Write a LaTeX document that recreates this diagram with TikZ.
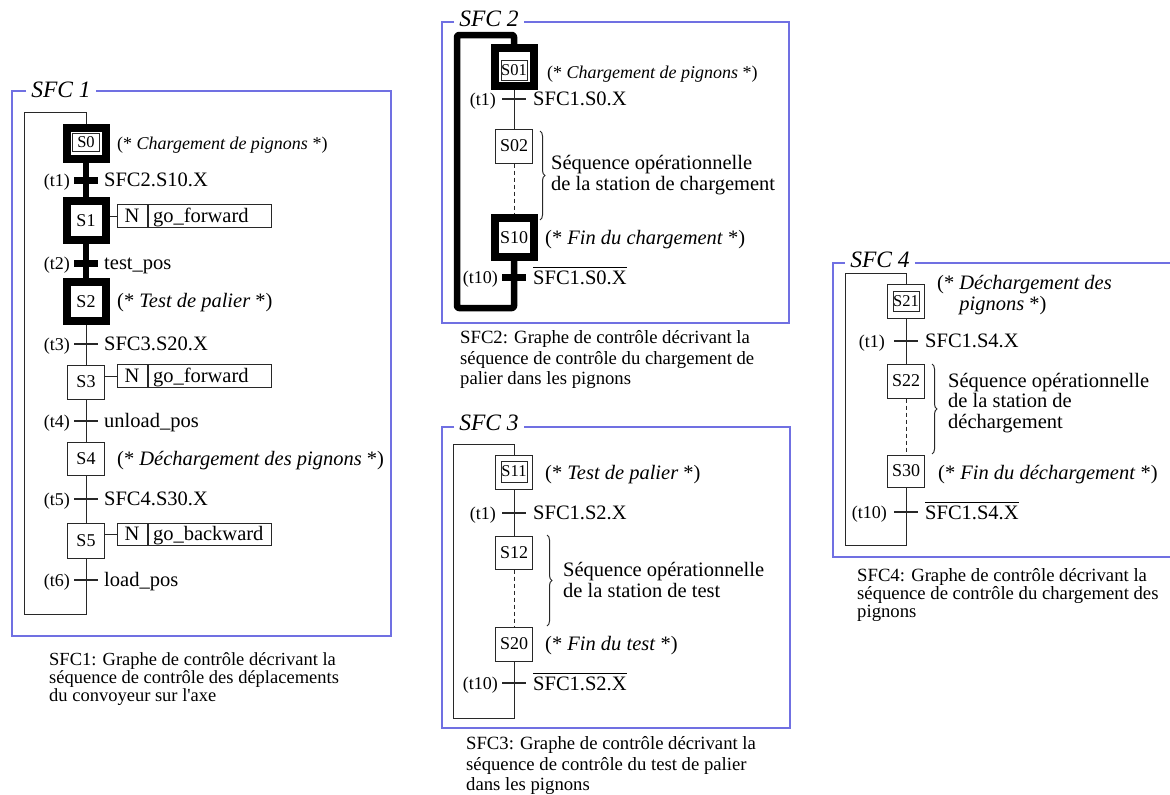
\documentclass[tikz,border=0pt]{standalone}
\usepackage{fontspec}
\setmainfont{Liberation Serif}[Ligatures=TeXOff]
\usetikzlibrary{decorations.pathreplacing}
\definecolor{frameblue}{RGB}{112,112,226}
\definecolor{lc}{RGB}{40,40,40}
\newcommand\fL{\fontsize{20.5}{20.5}\selectfont}
\newcommand\fS{\fontsize{18}{19}\selectfont}
\newcommand\fI{\fontsize{16.5}{18}\selectfont}
\newcommand\fT{\fontsize{18}{19}\selectfont}
\newcommand\ovl[1]{\vbox{\hrule height 1pt\kern 2.5pt\hbox{#1}}}
\begin{document}
\begin{tikzpicture}[x=1pt,y=-1pt,
  frm/.style={draw=frameblue, line width=1.4},
  ttl/.style={font=\fontsize{23.5}{25}\selectfont\itshape, inner xsep=5, inner ysep=0},
  stp/.style={draw=lc, line width=1, minimum width=37, minimum height=34, inner sep=0, font=\fS},
  astp/.style={draw=black, line width=8, minimum width=39, minimum height=39, inner sep=0, font=\fS},
  ibox/.style={draw=lc, line width=1, minimum width=26, minimum height=20, inner sep=0, font=\fI},
  trn/.style={fill=lc, minimum width=24, minimum height=1.3, inner sep=0},
  atrn/.style={fill=black, minimum width=24, minimum height=7, inner sep=0},
  lnk/.style={draw=lc, line width=1},
  alnk/.style={draw=black, line width=6.5, line join=round, rounded corners=2},
  dsh/.style={draw=lc, line width=1, dash pattern=on 4 off 3},
  brc/.style={draw=lc, line width=1, decorate, decoration={brace, amplitude=5}},
  lab/.style={anchor=west, font=\fL, inner sep=0, text height=13.6, text depth=0},
  tl/.style={anchor=east, font=\fT, inner sep=0, text height=12, text depth=0},
  mlab/.style={anchor=west, align=left, font=\fL, inner sep=0},
  capt/.style={anchor=west, align=left, inner sep=0},
  actN/.style={draw=lc, line width=1, minimum width=30, minimum height=23, inner sep=0, font=\fL, text height=13.6, text depth=0},
  actA/.style={draw=lc, line width=1, minimum width=123, minimum height=23, inner sep=0, font=\fL, anchor=west, text width=113, align=left, text height=13.6, text depth=0}
]
\useasboundingbox[fill=white] (0,0) rectangle (1170,795);

%================ SFC 1 =================
\node[ttl] (T1) at (61,90) {SFC 1};
\coordinate (F1a) at (12,91); \coordinate (F1b) at (12,636);
\coordinate (F1c) at (391,636); \coordinate (F1d) at (391,91);
\draw[frm] (T1.west |- F1a) -- (F1a) -- (F1b) -- (F1c) -- (F1d) -- (T1.east |- F1d);

\node[astp, minimum height=31] (S0) at (86,143.5) {};
\node[ibox, minimum width=27, minimum height=18] (S0i) at (86,142.5) {S0};
\node[atrn] (t1) at (86,180) {};
\node[astp] (S1) at (86,220.5) {S1};
\node[atrn] (t2) at (86,263) {};
\node[astp] (S2) at (86,301.5) {S2};
\node[trn] (t3) at (86,344) {};
\node[stp] (S3) at (86,382) {S3};
\node[trn] (t4) at (86,421) {};
\node[stp, minimum height=33] (S4) at (86,459) {S4};
\node[trn] (t5) at (86,499) {};
\node[stp, minimum height=35] (S5) at (86,540.5) {S5};
\node[trn] (t6) at (86,580) {};
\coordinate (L1a) at (86,614); \coordinate (L1b) at (24,614);
\coordinate (L1c) at (24,112); \coordinate (L1d) at (86,112);

\draw[black, line width=6.5] (S0.south) -- (S1.north);
\draw[black, line width=6.5] (S1.south) -- (S2.north);
\draw[lnk] (S2.south) -- (S3.north);
\draw[lnk] (S3.south) -- (S4.north);
\draw[lnk] (S4.south) -- (S5.north);
\draw[lnk] (S5.south) -- (L1a) -- (L1b) -- (L1c) -- (L1d) -- (S0.north);

\node[lab, font=\fontsize{18}{20}\selectfont, text height=12] (c0) at (117,143) {(* \textit{Chargement de pignons} *)};
\node[tl] (t1l) at (70,180) {(t1)};
\node[lab] (t1r) at (104,180) {SFC2.S10.X};
\node[actN] (N1) at (132,216) {N};
\node[actA] (A1) at (N1.east) {go\_forward};
\draw[lnk] (S1.east |- N1.west) -- (N1.west);
\node[tl] (t2l) at (70,263) {(t2)};
\node[lab] (t2r) at (104,263) {test\_pos};
\node[lab] (c2) at (117,301) {(* \textit{Test de palier} *)};
\node[tl] (t3l) at (70,344) {(t3)};
\node[lab] (t3r) at (104,344) {SFC3.S20.X};
\node[actN] (N3) at (132,376) {N};
\node[actA] (A3) at (N3.east) {go\_forward};
\draw[lnk] (S3.east |- N3.west) -- (N3.west);
\node[tl] (t4l) at (70,421) {(t4)};
\node[lab] (t4r) at (104,421) {unload\_pos};
\node[lab] (c4) at (117,459) {(* \textit{Déchargement des pignons} *)};
\node[tl] (t5l) at (70,499) {(t5)};
\node[lab] (t5r) at (104,499) {SFC4.S30.X};
\node[actN, minimum height=22] (N5) at (132,534) {N};
\node[actA, minimum height=22] (A5) at (N5.east) {go\_backward};
\draw[lnk] (S5.east |- N5.west) -- (N5.west);
\node[tl] (t6l) at (70,580) {(t6)};
\node[lab] (t6r) at (104,580) {load\_pos};

\node[capt, font=\fontsize{18.5}{16}\selectfont] (cap1) at (49,679)
  {SFC1: Graphe de contrôle décrivant la\\séquence de contrôle des déplacements\\du convoyeur sur l'axe};

%================ SFC 2 =================
\node[ttl] (T2) at (489,19) {SFC 2};
\coordinate (F2a) at (442,22); \coordinate (F2b) at (442,323);
\coordinate (F2c) at (789,323); \coordinate (F2d) at (789,22);
\draw[frm] (T2.west |- F2a) -- (F2a) -- (F2b) -- (F2c) -- (F2d) -- (T2.east |- F2d);

\node[astp, minimum height=38] (S01) at (514,67) {};
\node[ibox] (S01i) at (514,70) {S01};
\node[trn] (u1) at (514,99) {};
\node[stp] (S02) at (514,146) {S02};
\node[astp] (S10) at (514,237.5) {S10};
\node[atrn] (u10) at (514,277) {};
\coordinate (L2a) at (514,308); \coordinate (L2b) at (457,308);
\coordinate (L2c) at (457,35); \coordinate (L2d) at (514,35);

\draw[lnk] (S01.south) -- (S02.north);
\draw[dsh] (S02.south) -- (S10.north);
\draw[alnk] (S10.south) -- (L2a) -- (L2b) -- (L2c) -- (L2d) -- (S01.north);

\node[lab, font=\fontsize{18}{20}\selectfont, text height=12] (d0) at (547,72) {(* \textit{Chargement de pignons} *)};
\node[tl] (u1l) at (496,99) {(t1)};
\node[lab] (u1r) at (533,99) {SFC1.S0.X};
\draw[brc] (540,131) -- (540,220);
\node[mlab] (q2) at (551,175) {Séquence opérationnelle\\de la station de chargement};
\node[lab] (d10) at (545,238) {(* \textit{Fin du chargement} *)};
\node[tl] (u10l) at (498,277) {(t10)};
\node[font=\fL, inner sep=0, anchor=base west] (u10r) at (533,284) {\ovl{SFC1.S0.X}};

\node[capt, font=\fontsize{18.7}{20.5}\selectfont] (cap2) at (460,360)
  {SFC2: Graphe de contrôle décrivant la\\séquence de contrôle du chargement de\\palier dans les pignons};

%================ SFC 3 =================
\node[ttl] (T3) at (489,423) {SFC 3};
\coordinate (F3a) at (442,427); \coordinate (F3b) at (442,728);
\coordinate (F3c) at (790,728); \coordinate (F3d) at (790,427);
\draw[frm] (T3.west |- F3a) -- (F3a) -- (F3b) -- (F3c) -- (F3d) -- (T3.east |- F3d);

\node[stp] (S11) at (514,472) {};
\node[ibox, minimum height=21] (S11i) at (514,471.5) {S11};
\node[trn] (v1) at (514,513) {};
\node[stp, minimum height=33] (S12) at (514,552.5) {S12};
\node[stp] (S20) at (514,644) {S20};
\node[trn] (v10) at (514,683) {};
\coordinate (L3a) at (514,718); \coordinate (L3b) at (453,718);
\coordinate (L3c) at (453,444); \coordinate (L3d) at (514,444);

\draw[lnk] (S11.south) -- (S12.north);
\draw[dsh] (S12.south) -- (S20.north);
\draw[lnk] (S20.south) -- (L3a) -- (L3b) -- (L3c) -- (L3d) -- (S11.north);

\node[lab] (e0) at (545,473) {(* \textit{Test de palier} *)};
\node[tl] (v1l) at (496,513) {(t1)};
\node[lab] (v1r) at (533,513) {SFC1.S2.X};
\draw[brc] (547,535) -- (547,626);
\node[mlab] (q3) at (563,580) {Séquence opérationnelle\\de la station de test};
\node[lab] (e20) at (545,644) {(* \textit{Fin du test} *)};
\node[tl] (v10l) at (498,683) {(t10)};
\node[font=\fL, inner sep=0, anchor=base west] (v10r) at (533,690) {\ovl{SFC1.S2.X}};

\node[capt, font=\fontsize{18.7}{20.5}\selectfont] (cap3) at (466,766)
  {SFC3: Graphe de contrôle décrivant la\\séquence de contrôle du test de palier\\dans les pignons};

%================ SFC 4 =================
\node[ttl] (T4) at (880,260) {SFC 4};
\coordinate (F4a) at (833,263); \coordinate (F4b) at (833,557);
\coordinate (F4c) at (1170,557); \coordinate (F4d) at (1170,263);
\draw[frm] (F4c) -- (F4b) -- (F4a) -- (T4.west |- F4a);
\draw[frm] (T4.east |- F4d) -- (F4d);

\node[stp] (S21) at (906,301) {};
\node[ibox] (S21i) at (906,301) {S21};
\node[trn] (w1) at (906,341) {};
\node[stp] (S22) at (906,381) {S22};
\node[stp, minimum height=32] (S30) at (906,471) {S30};
\node[trn] (w10) at (906,512) {};
\coordinate (L4a) at (906,545); \coordinate (L4b) at (845,545);
\coordinate (L4c) at (845,273); \coordinate (L4d) at (906,273);

\draw[lnk] (S21.south) -- (S22.north);
\draw[dsh] (S22.south) -- (S30.north);
\draw[lnk] (S30.south) -- (L4a) -- (L4b) -- (L4c) -- (L4d) -- (S21.north);

\node[mlab, font=\fontsize{20.5}{21}\selectfont] (f0) at (937,295) {(* \textit{Déchargement des}\\\phantom{(*\ }\textit{pignons} *)};
\node[tl] (w1l) at (885,341) {(t1)};
\node[lab] (w1r) at (925,341) {SFC1.S4.X};
\draw[brc] (932,364) -- (932,454);
\node[mlab] (q4) at (948,403) {Séquence opérationnelle\\de la station de\\déchargement};
\node[lab] (f30) at (938,473) {(* \textit{Fin du déchargement} *)};
\node[tl] (w10l) at (887,512) {(t10)};
\node[font=\fL, inner sep=0, anchor=base west] (w10r) at (925,519) {\ovl{SFC1.S4.X}};

\node[capt, font=\fontsize{18.7}{18}\selectfont] (cap4) at (857,595)
  {SFC4: Graphe de contrôle décrivant la\\séquence de contrôle du chargement des\\pignons};
\end{tikzpicture}
\end{document}
